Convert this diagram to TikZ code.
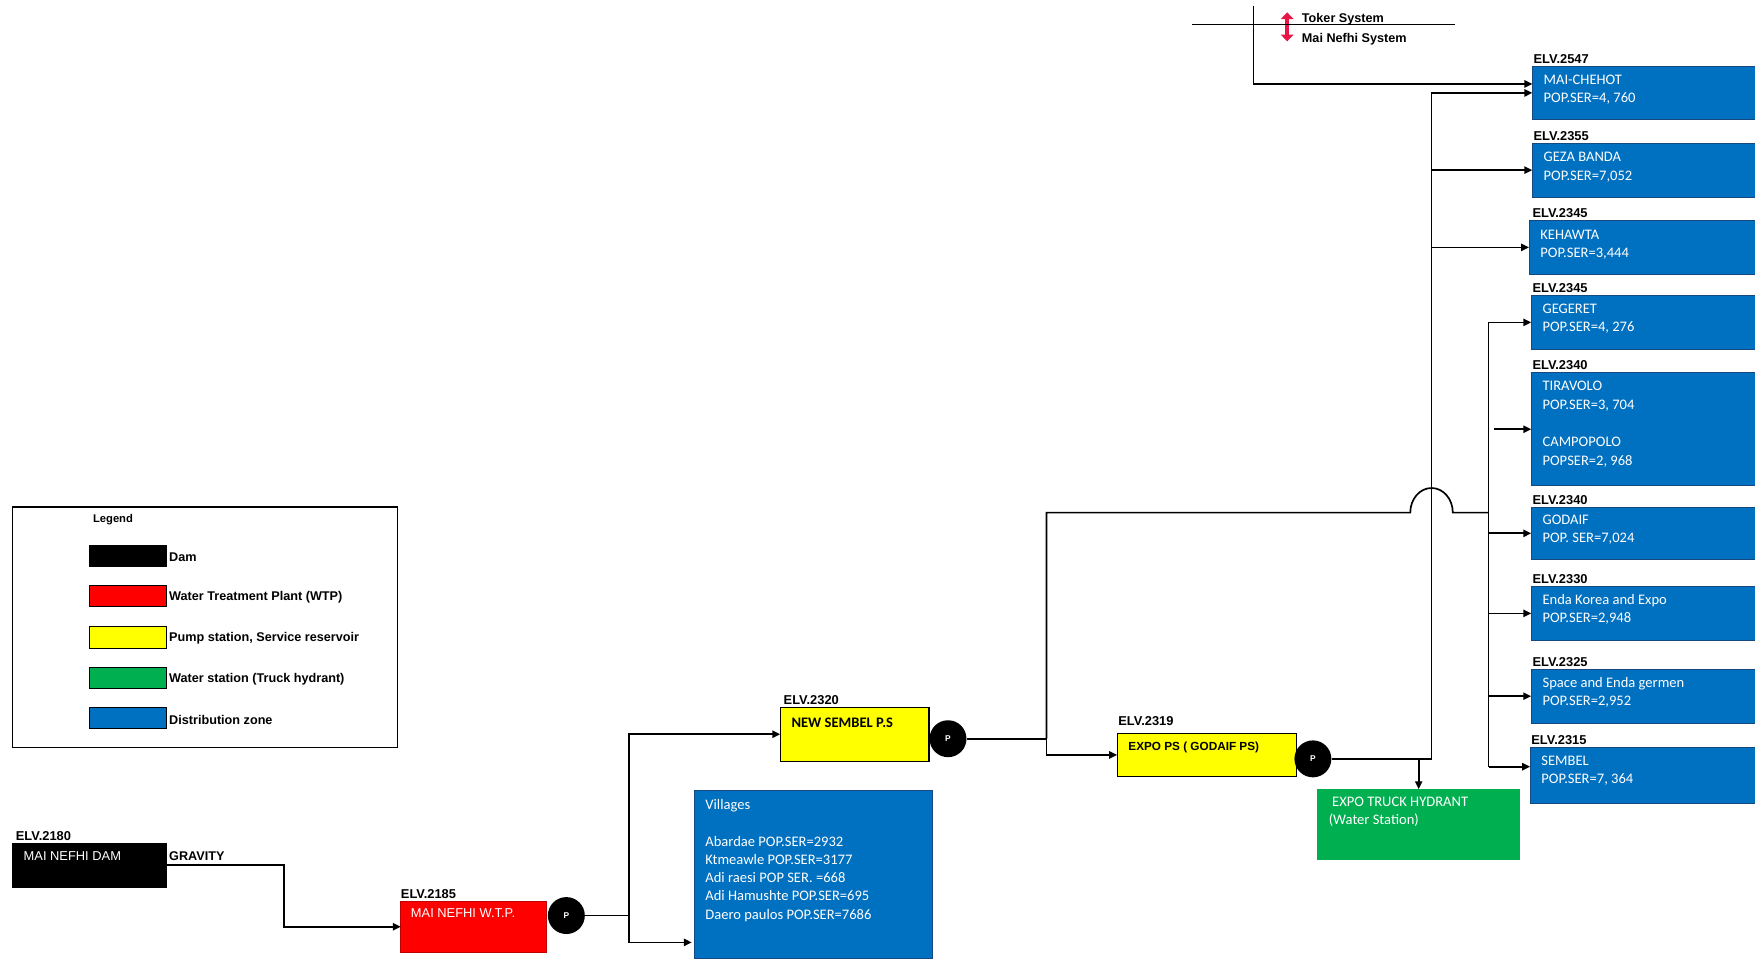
\documentclass[tikz,border=0pt]{standalone}
\usepackage{fontspec}
\setmainfont{Liberation Sans}
\newfontfamily\calfont{Carlito}
\usetikzlibrary{arrows.meta,calc}

\definecolor{zoneblue}{RGB}{0,112,192}
\definecolor{zoneedge}{RGB}{22,72,130}
\definecolor{wtpred}{RGB}{255,0,0}
\definecolor{wtpedge}{RGB}{190,0,0}
\definecolor{psyellow}{RGB}{255,255,0}
\definecolor{hydgreen}{RGB}{0,176,80}
\definecolor{sysred}{RGB}{232,22,72}

\begin{document}
\begin{tikzpicture}[x=1pt,y=-1pt,
  box/.style={anchor=north west, inner sep=0pt, outer sep=0pt},
  zone/.style={box, fill=zoneblue, draw=zoneedge, line width=0.6pt},
  station/.style={box, fill=psyellow, draw=black, line width=0.9pt},
  ztext/.style={anchor=north west, inner sep=0pt, align=left, text=white,
    font=\calfont\fontsize{13}{16.3}\selectfont},
  elv/.style={anchor=base west, inner sep=0pt, font=\bfseries\fontsize{11.5}{13}\selectfont},
  wtext/.style={anchor=north west, inner sep=0pt, text=white, font=\fontsize{11.5}{13}\selectfont},
  legtext/.style={anchor=west, inner sep=0pt, font=\bfseries\fontsize{11.3}{13}\selectfont},
  swatch/.style={box, draw=black, line width=0.9pt, minimum width=69pt, minimum height=19pt},
  pump/.style={circle, fill=black, minimum size=33pt, inner sep=0pt, text=white,
    font=\bfseries\fontsize{7.5}{9}\selectfont},
  pipe/.style={line width=1.5pt},
  flow/.style={line width=1.5pt, -{Triangle[length=7pt,width=6.5pt]}},
  sysarrow/.style={draw=sysred, line width=3.5pt,
    {Triangle[length=6pt,width=11pt]}-{Triangle[length=6pt,width=11pt]}}
]
\useasboundingbox (0,0) rectangle (1568,856);
\fill[white] (0,0) rectangle (1568,856);

% ---------- distribution zones on the right ----------
\node[zone, minimum width=211pt, minimum height=48pt] (mc) at (1369,59) {};
\node[ztext] (mct) at ([shift={(10pt,-7.5pt)}]mc.north west) {MAI-CHEHOT\\POP.SER=4, 760};
\node[elv] (mce) at ([shift={(1pt,2.5pt)}]mc.north west) {ELV.2547};

\node[zone, minimum width=211pt, minimum height=48pt] (gz) at (1369,128) {};
\node[ztext] (gzt) at ([shift={(10pt,-8pt)}]gz.north west) {GEZA BANDA\\POP.SER=7,052};
\node[elv] (gze) at ([shift={(1pt,2.5pt)}]gz.north west) {ELV.2355};

\node[zone, minimum width=214pt, minimum height=48pt] (kh) at (1366,197) {};
\node[ztext] (kht) at ([shift={(10pt,-8pt)}]kh.north west) {KEHAWTA\\POP.SER=3,444};
\node[elv] (khe) at ([shift={(3pt,2.5pt)}]kh.north west) {ELV.2345};

\node[zone, minimum width=212pt, minimum height=48pt] (gg) at (1368,264) {};
\node[ztext] (ggt) at ([shift={(10pt,-7.5pt)}]gg.north west) {GEGERET\\POP.SER=4, 276};
\node[elv] (gge) at ([shift={(1pt,2.5pt)}]gg.north west) {ELV.2345};

\node[zone, minimum width=212pt, minimum height=101pt] (tv) at (1368,333) {};
\node[ztext] (tvt) at ([shift={(10pt,-7.5pt)}]tv.north west)
  {TIRAVOLO\\POP.SER=3, 704\\[17.5pt]CAMPOPOLO\\POPSER=2, 968};
\node[elv] (tve) at ([shift={(1pt,2.5pt)}]tv.north west) {ELV.2340};

\node[zone, minimum width=212pt, minimum height=47pt] (gd) at (1368,453) {};
\node[ztext] (gdt) at ([shift={(10pt,-7pt)}]gd.north west) {GODAIF\\POP. SER=7,024};
\node[elv] (gde) at ([shift={(1pt,2.5pt)}]gd.north west) {ELV.2340};

\node[zone, minimum width=212pt, minimum height=48pt] (ek) at (1368,524) {};
\node[ztext] (ekt) at ([shift={(10pt,-7pt)}]ek.north west) {Enda Korea and Expo\\POP.SER=2,948};
\node[elv] (eke) at ([shift={(1pt,2.5pt)}]ek.north west) {ELV.2330};

\node[zone, minimum width=212pt, minimum height=48pt] (sp) at (1368,598) {};
\node[ztext] (spt) at ([shift={(10pt,-7pt)}]sp.north west) {Space and Enda germen\\POP.SER=2,952};
\node[elv] (spe) at ([shift={(1pt,2.5pt)}]sp.north west) {ELV.2325};

\node[zone, minimum width=213pt, minimum height=50pt] (sb) at (1367,668) {};
\node[ztext] (sbt) at ([shift={(10pt,-7.5pt)}]sb.north west) {SEMBEL\\POP.SER=7, 364};
\node[elv] (sbe) at ([shift={(1pt,2.5pt)}]sb.north west) {ELV.2315};

% ---------- source, treatment and pumping ----------
\node[box, fill=black, minimum width=138pt, minimum height=40pt] (dam) at (11,753) {};
\node[wtext] (damt) at ([shift={(10pt,-8pt)}]dam.north west) {MAI NEFHI DAM};
\node[elv] (dame) at ([shift={(3pt,2pt)}]dam.north west) {ELV.2180};
\node[legtext] (grav) at ([shift={(2pt,8pt)}]dam.east) {GRAVITY};

\node[box, fill=wtpred, draw=wtpedge, line width=0.6pt, minimum width=130pt, minimum height=46pt] (wtp) at (358,805) {};
\node[wtext] (wtpt) at ([shift={(9pt,-7pt)}]wtp.north west) {MAI NEFHI W.T.P.};
\node[elv] (wtpe) at ([shift={(0pt,2pt)}]wtp.north west) {ELV.2185};
\node[pump] (p1) at (506,818) {P};

\node[station, minimum width=133pt, minimum height=48pt] (ns) at (697,632) {};
\node[anchor=north west, inner sep=0pt, font=\calfont\bfseries\fontsize{13}{15}\selectfont]
  (nst) at ([shift={(10pt,-9.5pt)}]ns.north west) {NEW SEMBEL P.S};
\node[elv] (nse) at ([shift={(3pt,2.5pt)}]ns.north west) {ELV.2320};
\node[pump] (p2) at (847,660) {P};

\node[zone, minimum width=213pt, minimum height=150pt] (vil) at (620,706) {};
\node[ztext] (vilt) at ([shift={(10pt,-8pt)}]vil.north west)
  {Villages\\[16.5pt]Abardae POP.SER=2932\\Ktmeawle POP.SER=3177\\Adi raesi POP SER. =668\\Adi Hamushte POP.SER=695\\Daero paulos POP.SER=7686};

\node[station, minimum width=160pt, minimum height=39pt] (ex) at (998,655) {};
\node[anchor=north west, inner sep=0pt, font=\bfseries\fontsize{10.5}{12}\selectfont]
  (ext) at ([shift={(10pt,-8pt)}]ex.north west) {EXPO PS ( GODAIF PS)};
\node[elv] (exe) at ([shift={(1pt,6.5pt)}]ex.north west) {ELV.2319};
\node[pump] (p3) at (1173,678) {P};

\node[box, fill=hydgreen, minimum width=181pt, minimum height=63pt] (hy) at (1177,705) {};
\node[ztext] (hyt) at ([shift={(10pt,-7pt)}]hy.north west) {\hspace*{3pt}EXPO TRUCK HYDRANT\\(Water Station)};

% ---------- system boundary marker ----------
\coordinate (tk) at (1120,5);
\draw[sysarrow] (1150,11) -- (1150,37);
\draw[line width=1.2pt] (1065,22) -- (1300,22);
\node[legtext] (tks) at (1163,17) {Toker System};
\node[legtext] (mns) at (1163,35) {Mai Nefhi System};

% ---------- legend ----------
\node[box, draw=black, line width=1pt, minimum width=344pt, minimum height=215pt] (leg) at (11,453) {};
\node[legtext, font=\bfseries\fontsize{10}{12}\selectfont] (legt) at (83,464) {Legend};
\node[swatch, fill=black] (sw1) at (80,487) {};
\node[swatch, fill=wtpred] (sw2) at (80,523) {};
\node[swatch, fill=psyellow] (sw3) at (80,560) {};
\node[swatch, fill=hydgreen] (sw4) at (80,596) {};
\node[swatch, fill=zoneblue] (sw5) at (80,632) {};
\node[legtext] (lb1) at ([shift={(2pt,-1.5pt)}]sw1.east) {Dam};
\node[legtext] (lb2) at ([shift={(2pt,-1pt)}]sw2.east) {Water Treatment Plant (WTP)};
\node[legtext] (lb3) at ([shift={(2pt,-1pt)}]sw3.east) {Pump station, Service reservoir};
\node[legtext] (lb4) at ([shift={(2pt,-1pt)}]sw4.east) {Water station (Truck hydrant)};
\node[legtext] (lb5) at ([shift={(2pt,-1.5pt)}]sw5.east) {Distribution zone};

% ---------- pipelines ----------
% dam to treatment plant
\draw[flow] (dam.east) -| ($(dam.east)!0.5!(wtp.west)$) |- (wtp.west);

% treatment plant pump to New Sembel and the villages
\coordinate (s1) at (562,818);
\draw[pipe] (p1.east) -- (s1);
\draw[flow] (s1) |- (ns.west);
\draw[flow, shorten >=2pt] (s1) |- ([yshift=-61pt]vil.west);

% New Sembel pump to Expo PS and the lower zones
\coordinate (s2) at (935,660);
\coordinate (bus) at (1330,0);
\coordinate (busE) at (1330,458);
\draw[pipe] (p2.east) -- (s2);
\draw[flow] (s2) |- (ex.west);

% Expo PS pump to the upper zones and the truck hydrant
\coordinate (s3) at (1279,678);
\coordinate (hopc) at (busE -| s3);
\draw[pipe] (s2) -- (s2 |- busE) -- ([xshift=-19pt]hopc)
  arc[start angle=180, end angle=0, x radius=19pt, y radius=22pt] -- (busE);
\draw[pipe] (p3.east) -- (s3);
\draw[flow] (s3) |- (mc.west);
\draw[flow] (s3 |- gz.west) -- (gz.west);
\draw[flow] (s3 |- kh.west) -- (kh.west);
\draw[flow] (hy.north |- p3.east) -- (hy.north);

% lower distribution bus
\coordinate (sbin) at ([yshift=8pt]sb.west);
\draw[pipe] (bus |- gg.west) -- (bus |- sbin);
\draw[flow] (bus |- gg.west) -- (gg.west);
\draw[flow] ([xshift=5pt]bus |- tv.west) -- (tv.west);
\draw[flow] (bus |- gd.west) -- (gd.west);
\draw[flow] (bus |- ek.west) -- (ek.west);
\draw[flow] (bus |- sp.west) -- (sp.west);
\draw[flow] (bus |- sbin) -- (sbin);

% feed from the Toker system
\draw[flow] (tk) |- ([yshift=8pt]mc.west);
\end{tikzpicture}
\end{document}
